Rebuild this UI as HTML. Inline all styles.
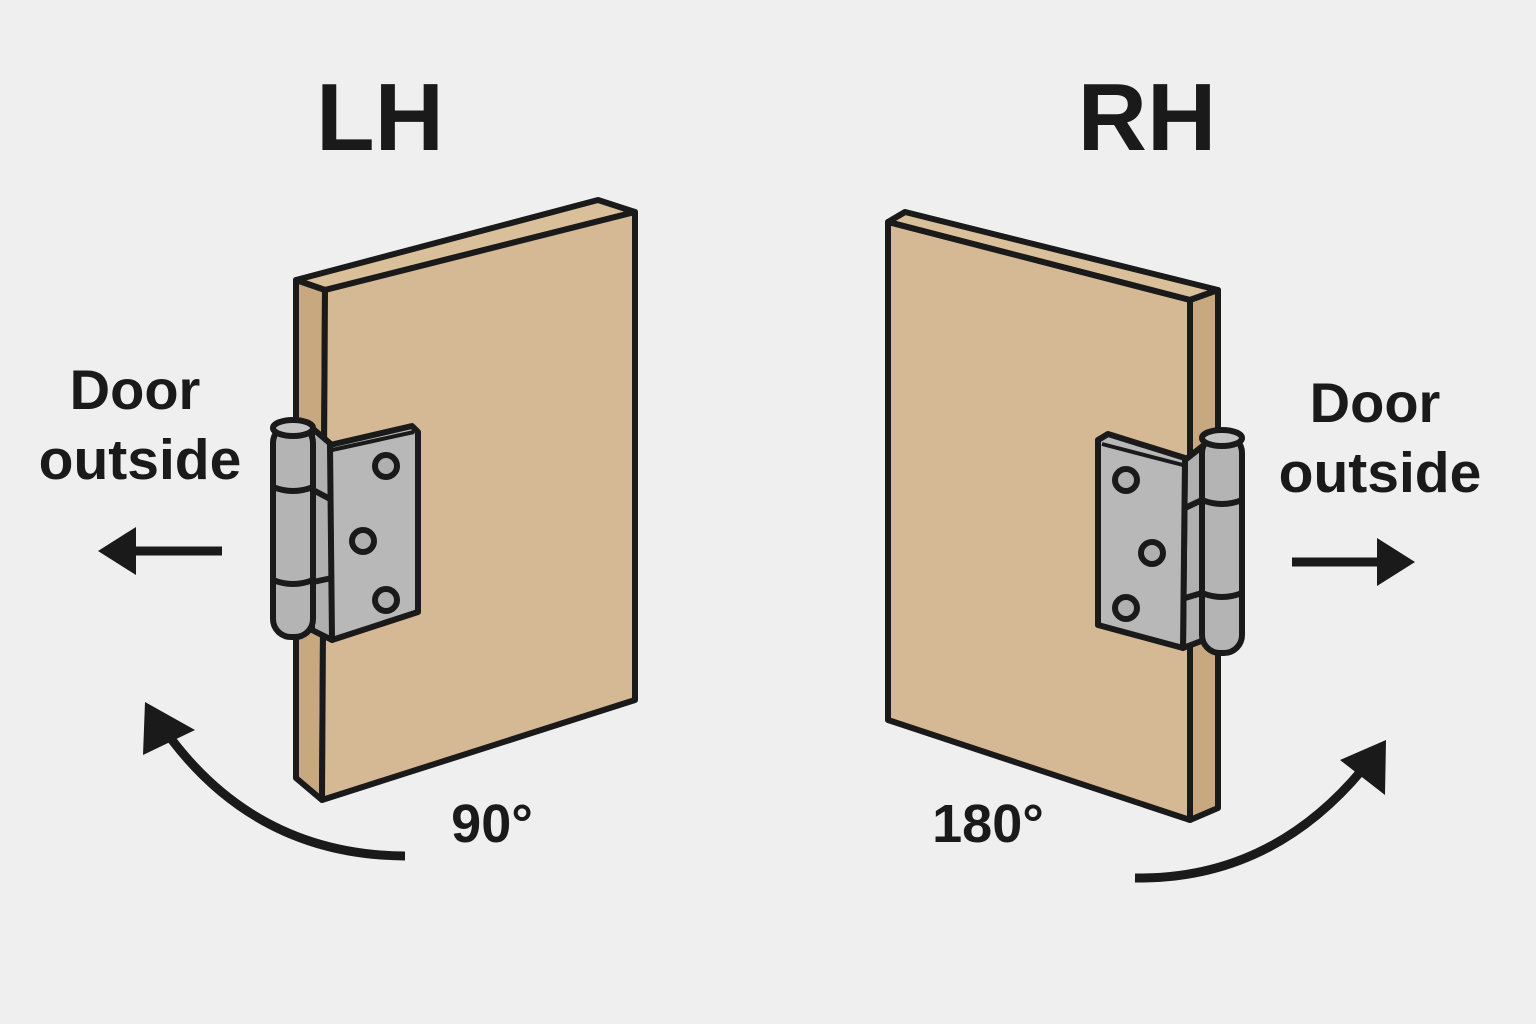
<!DOCTYPE html>
<html><head><style>body{margin:0;background:#efefef}svg{display:block}</style></head><body>
<svg width="1536" height="1024" viewBox="0 0 1536 1024" xmlns="http://www.w3.org/2000/svg" font-family="Liberation Sans, sans-serif" font-weight="bold" fill="#1a1a1a">
<rect width="1536" height="1024" fill="#efefef"/>
<g stroke="#1a1a1a" stroke-width="6" stroke-linejoin="round">
<!-- left door -->
<polygon points="296,280 598,200 635,212 325,290" fill="#d9c09b"/>
<polygon points="296,280 325,290 322,800 296,778" fill="#c8a87e"/>
<polygon points="325,290 635,212 635,700 322,800" fill="#d5b994"/>
<!-- right door -->
<polygon points="888,222 905,212 1218,290 1190,300" fill="#d9c09b"/>
<polygon points="1190,300 1218,290 1218,808 1190,820" fill="#c8a87e"/>
<polygon points="888,222 1190,300 1190,820 888,720" fill="#d5b994"/>
<!-- left hinge -->
<polygon points="312,428 332,445 332,640 312,630" fill="#b0b0b0"/>
<polygon points="330,445 412,426 418,432 418,612 332,640" fill="#b8b8b8"/>
<line x1="332" y1="450" x2="414" y2="432" stroke-width="4"/>
<rect x="273" y="425" width="40" height="212" rx="18" fill="#b4b4b4"/>
<ellipse cx="293" cy="428" rx="20" ry="8" fill="#c4c4c4"/>
<path d="M273 487 Q293 495 313 487 M273 580 Q293 588 313 580 M313 490 L332 500 M313 582 L332 578" fill="none"/>
<circle cx="386" cy="466" r="11" fill="#b0b0b0"/>
<circle cx="363" cy="541" r="11" fill="#b0b0b0"/>
<circle cx="386" cy="600" r="11" fill="#b0b0b0"/>
<!-- right hinge -->
<polygon points="1185,460 1204,445 1204,640 1183,648" fill="#b0b0b0"/>
<polygon points="1098,440 1108,434 1185,458 1183,648 1098,625" fill="#b8b8b8"/>
<line x1="1102" y1="444" x2="1183" y2="465" stroke-width="4"/>
<rect x="1202" y="435" width="40" height="218" rx="18" fill="#b4b4b4"/>
<ellipse cx="1222" cy="438" rx="20" ry="8" fill="#c4c4c4"/>
<path d="M1202 500 Q1222 508 1242 500 M1202 593 Q1222 601 1242 593 M1185 508 L1202 500 M1185 598 L1202 593" fill="none"/>
<circle cx="1126" cy="480" r="11" fill="#b0b0b0"/>
<circle cx="1152" cy="553" r="11" fill="#b0b0b0"/>
<circle cx="1126" cy="608" r="11" fill="#b0b0b0"/>
</g>
<!-- arrows -->
<g stroke="#1a1a1a" stroke-width="9" fill="none">
<line x1="222" y1="551" x2="125" y2="551"/>
<line x1="1292" y1="562" x2="1390" y2="562"/>
<path d="M405 856 Q260 855 172 740"/>
<path d="M1135 878 Q1270 880 1362 770"/>
</g>
<polygon points="98,551 136,527 136,575" fill="#1a1a1a"/>
<polygon points="1415,562 1377,538 1377,586" fill="#1a1a1a"/>
<polygon points="145,702 143,755 195,730" fill="#1a1a1a"/>
<polygon points="1386,740 1340,760 1385,795" fill="#1a1a1a"/>
<!-- text -->
<g text-anchor="middle">
<text x="380" y="150" font-size="96">LH</text>
<text x="1147" y="150" font-size="96">RH</text>
<text x="135" y="409" font-size="56">Door</text>
<text x="140" y="479" font-size="57">outside</text>
<text x="1375" y="422" font-size="56">Door</text>
<text x="1380" y="492" font-size="57">outside</text>
<text x="492" y="842" font-size="54">90°</text>
<text x="988" y="842" font-size="54">180°</text>
</g>
</svg>
</body></html>
